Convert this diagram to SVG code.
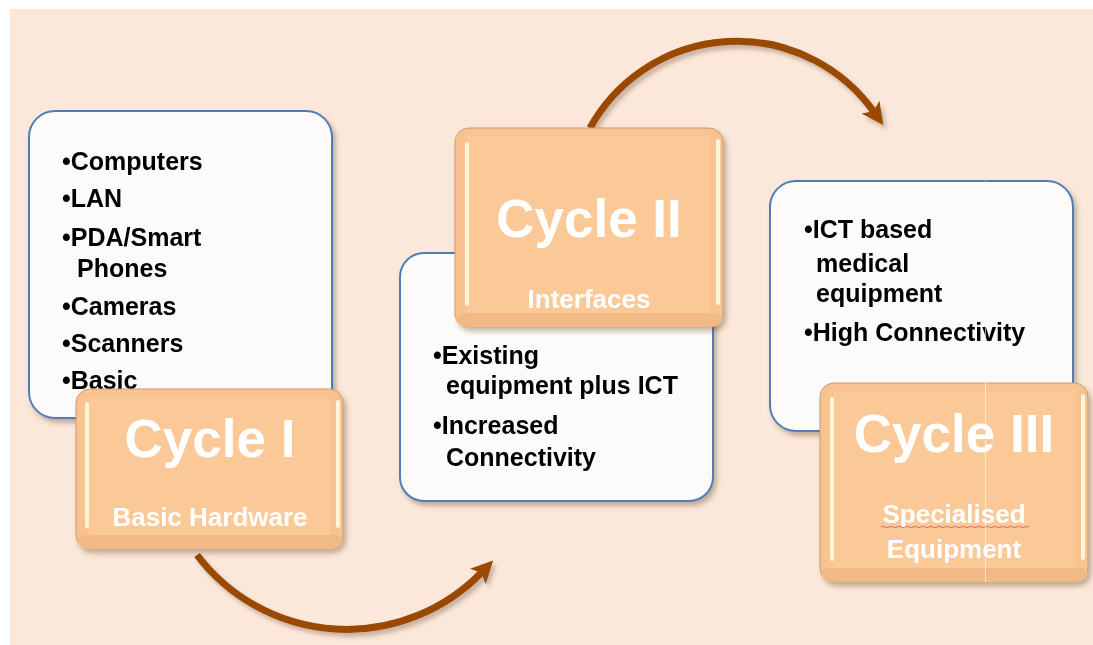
<svg xmlns="http://www.w3.org/2000/svg" width="1093" height="645" viewBox="0 0 1093 645">
<style>
.bg{fill:#FCE8DA}
.card{fill:#FDFBF9;stroke:#4F7DB8;stroke-width:2}
.item{font-family:"Liberation Sans",Arial,sans-serif;font-weight:bold;font-size:25px;fill:#000}
.title{font-family:"Liberation Sans",Arial,sans-serif;font-weight:bold;font-size:53px;fill:#fff;text-anchor:middle}
.sub{font-family:"Liberation Sans",Arial,sans-serif;font-weight:bold;font-size:26px;fill:#fff;text-anchor:middle}
.outer{fill:#F8C391;stroke:#C99C76;stroke-width:1}
.face{fill:#FBC998}
.bottom{fill:#F0B985}
.hl{fill:#FFF6DA}
.arc{fill:none;stroke:#9A4806;stroke-width:7}
</style>
<defs>
<filter id="sh" x="-10%" y="-10%" width="130%" height="130%">
<feDropShadow dx="3" dy="4" stdDeviation="2.5" flood-color="#5a3a20" flood-opacity="0.35"/>
</filter>
<filter id="ash" x="-10%" y="-10%" width="130%" height="130%">
<feDropShadow dx="3" dy="4" stdDeviation="2" flood-color="#6a4a30" flood-opacity="0.35"/>
</filter>
<marker id="ah" markerUnits="userSpaceOnUse" markerWidth="30" markerHeight="30" refX="6" refY="11" orient="auto">
<path d="M0,0 L22,11 L0,22 L5,11 Z" fill="#9A4806"/>
</marker>
</defs>
<rect class="bg" x="10" y="9" width="1083" height="636"/>

<g id="connectors" filter="url(#ash)">
<path class="arc" d="M590,128 A168,168 0 0,1 874,112" marker-end="url(#ah)"/>
<path class="arc" d="M197,555 A188,188 0 0,0 482,572" marker-end="url(#ah)"/>
</g>

<g id="cycle1-details" filter="url(#sh)">
<rect class="card" x="29" y="111" width="303" height="307" rx="26"/>
<text class="item" x="62" y="170">•Computers</text>
<text class="item" x="62" y="207">•LAN</text>
<text class="item" x="62" y="246">•PDA/Smart</text>
<text class="item" x="77" y="277">Phones</text>
<text class="item" x="62" y="315">•Cameras</text>
<text class="item" x="62" y="352">•Scanners</text>
<text class="item" x="62" y="389">•Basic</text>
</g>
<g id="cycle1" filter="url(#sh)">
<rect class="outer" x="76" y="389" width="267" height="160" rx="14"/>
<path class="bottom" d="M82,535 H337 L343,540 Q340,549 329,549 H90 Q79,549 76,540 Z"/>
<rect class="face" x="89" y="397" width="241" height="138"/>
<rect class="hl" x="85" y="402" width="4" height="126" rx="2"/>
<rect class="hl" x="336" y="400" width="4" height="128" rx="2"/>
<text class="title" x="210" y="457">Cycle I</text>
<text class="sub" x="210" y="526">Basic Hardware</text>
</g>

<g id="cycle2-details" filter="url(#sh)">
<rect class="card" x="400" y="253" width="313" height="248" rx="24"/>
<text class="item" x="433" y="364">•Existing</text>
<text class="item" x="446" y="394">equipment plus ICT</text>
<text class="item" x="433" y="434">•Increased</text>
<text class="item" x="446" y="466">Connectivity</text>
</g>
<g id="cycle2" filter="url(#sh)">
<rect class="outer" x="455" y="128" width="268" height="199" rx="14"/>
<path class="bottom" d="M461,313 H717 L723,318 Q720,327 709,327 H469 Q458,327 455,318 Z"/>
<rect class="face" x="468" y="136" width="242" height="177"/>
<rect class="hl" x="465" y="142" width="4" height="164" rx="2"/>
<rect class="hl" x="716" y="139" width="4" height="166" rx="2"/>
<text class="title" x="589" y="237">Cycle II</text>
<text class="sub" x="589" y="308">Interfaces</text>
</g>

<g id="cycle3-details" filter="url(#sh)">
<rect class="card" x="770" y="181" width="303" height="250" rx="26"/>
<text class="item" x="804" y="238">•ICT based</text>
<text class="item" x="816" y="272">medical</text>
<text class="item" x="816" y="302">equipment</text>
<text class="item" x="804" y="341">•High Connectivity</text>
</g>
<g id="cycle3" filter="url(#sh)">
<rect class="outer" x="820" y="383" width="268" height="199" rx="14"/>
<path class="bottom" d="M826,568 H1082 L1088,573 Q1085,582 1074,582 H834 Q823,582 820,573 Z"/>
<rect class="face" x="833" y="391" width="242" height="177"/>
<rect class="hl" x="830" y="397" width="4" height="164" rx="2"/>
<rect class="hl" x="1081" y="394" width="4" height="166" rx="2"/>
<text class="title" x="954" y="452">Cycle III</text>
<text class="sub" x="954" y="523">Specialised</text>
<path d="M881,527 q2,-1.5 4,0 t4,0 t4,0 t4,0 t4,0 t4,0 t4,0 t4,0 t4,0 t4,0 t4,0 t4,0 t4,0 t4,0 t4,0 t4,0 t4,0 t4,0 t4,0 t4,0 t4,0 t4,0 t4,0 t4,0 t4,0 t4,0 t4,0 t4,0 t4,0 t4,0 t4,0 t4,0 t4,0 t4,0 t4,0 t4,0 t4,0" fill="none" stroke="#E06A6A" stroke-width="1"/>
<text class="sub" x="954" y="558">Equipment</text>
</g>
<line x1="985.5" y1="181" x2="985.5" y2="582" stroke="#ffffff" stroke-width="1" opacity="0.6"/>
</svg>
